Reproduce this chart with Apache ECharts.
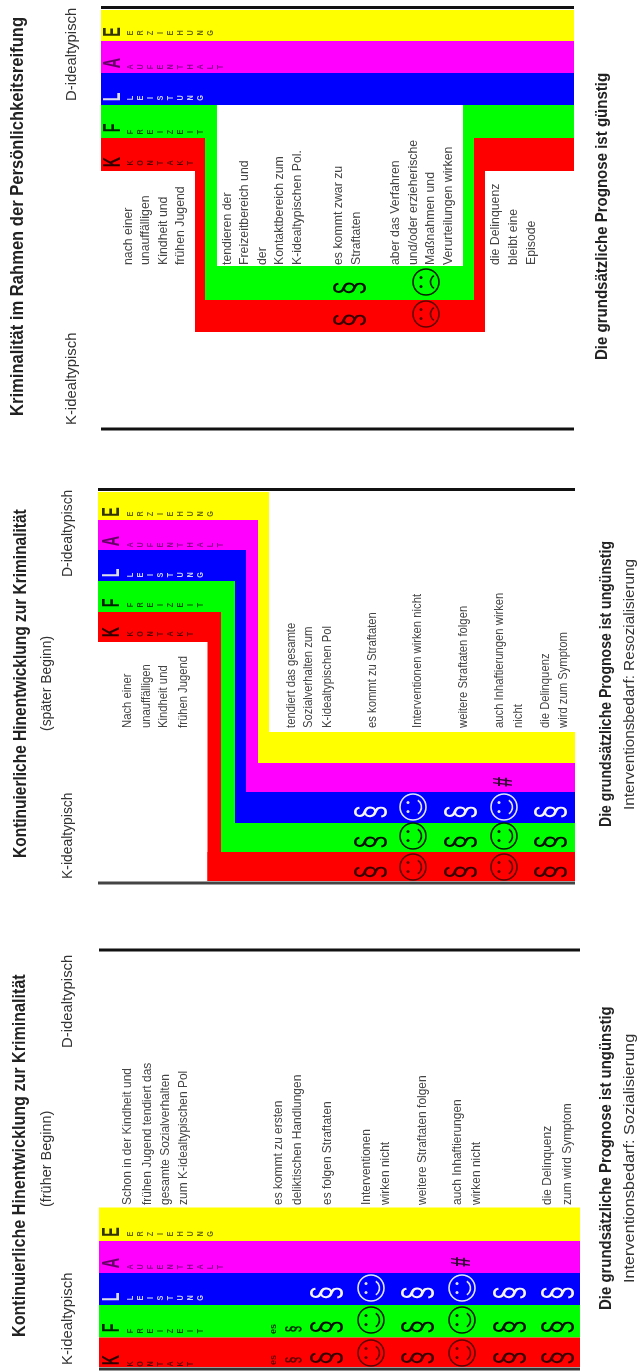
<!DOCTYPE html>
<html><head><meta charset="utf-8">
<style>html,body{margin:0;padding:0;background:#fff}#c{width:643px;height:1372px;filter:blur(0.55px)}</style>
<script src="https://cdn.jsdelivr.net/npm/echarts@6/dist/echarts.min.js"></script>
</head><body><div id="c"></div>
<script>
// Bereiche (K, F, L, A, E)
const bandLetters = ['K','F','L','A','E'];
const bandWords = ['KONTAKT','FREIZEIT','LEISTUNG','AUFENTHALT','ERZIEHUNG'];
const bandColors = ['#ff0000','#00ff00','#0000ff','#ff00ff','#ffff00'];
const bandInk = ['#5a0000','#005500','#c8d0ff','#8a008a','#6a6a00'];
// Band areas: [x0, y0, x1, y1, band]
const reifungBands = [
 [101,10,574,41,4],[101,41,574,73,3],[101,73,574,105,2],
 [101,105,217,138,1],[205,105,217,300,1],[205,266,474,300,1],[463,105,474,300,1],[463,105,574,138,1],
 [101,138,205,171,0],[195,138,205,332,0],[195,300,485,332,0],[474,138,485,332,0],[474,138,574,171,0]
];
const spaetBands = [
 [98,492,269,520,4],[258,492,269,763,4],[258,732,575,763,4],
 [98,520,258,550,3],[246,520,258,792,3],[246,763,575,792,3],
 [98,550,246,581,2],[235,550,246,823,2],[235,792,575,823,2],
 [98,581,235,612,1],[221,581,235,852,1],[221,823,575,852,1],
 [98,612,221,642,0],[207.5,612,221,881,0],[207.5,852,575,881,0]
];
const fruehBands = [
 [99,1207.5,580,1241,4],[99,1241,580,1273,3],[99,1273,580,1305,2],[99,1305,580,1337.5,1],[99,1337.5,580,1367,0]
];
// Rules: [x0, x1, y, colour]
const rules = [
 [101,574,7.5,'#111'],[101,574,429,'#111'],[98,575,489.5,'#111'],[98,575,883,'#444'],[99,580,950,'#111'],[99,580,1369,'#333']
];
// Headings
const headings = ['Kriminalität im Rahmen der Persönlichkeitsreifung','Kontinuierliche Hinentwicklung zur Kriminalität','Kontinuierliche Hinentwicklung zur Kriminalität'];
const subHeadings = ['(später Beginn)','(früher Beginn)'];
const poleK = 'K-idealtypisch', poleD = 'D-idealtypisch';
const prognosis = ['Die grundsätzliche Prognose ist günstig','Die grundsätzliche Prognose ist ungünstig','Die grundsätzliche Prognose ist ungünstig'];
const needs = ['Interventionsbedarf: Resozialisierung','Interventionsbedarf: Sozialisierung'];
// Body text
const reifungText = ['nach einer','unauffälligen','Kindheit und','frühen Jugend','tendieren der','Freizeitbereich und','der','Kontaktbereich zum','K-idealtypischen Pol.','es kommt zwar zu','Straftaten','aber das Verfahren','und/oder erzieherische','Maßnahmen und','Verurteilungen wirken','die Delinquenz','bleibt eine','Episode'];
const reifungTextX = [128,145.5,163,180,227,244,262,279,297,338,356,395,413,430,448,495,513,531];
const spaetText = ['Nach einer','unauffälligen','Kindheit und','frühen Jugend','tendiert das gesamte','Sozialverhalten zum','K-idealtypischen Pol','es kommt zu Straftaten','Interventionen wirken nicht','weitere Straftaten folgen','auch Inhaftierungen wirken','nicht','die Delinquenz','wird zum Symptom'];
const spaetTextX = [127,146,163,183,291,308,327,372,417,463,499,518,545,563];
const fruehText = ['Schon in der Kindheit und','frühen Jugend tendiert das','gesamte Sozialverhalten','zum K-idealtypischen Pol','es kommt zu ersten','deliktischen Handlungen','es folgen Straftaten','Interventionen','wirken nicht','weitere Straftaten folgen','auch Inhaftierungen','wirken nicht','die Delinquenz','zum wird Symptom'];
const fruehTextX = [127,147,165,183,278,297,327,366,385,422,457,476,547,567];
// Marks: [x, y, band]
const paragraphs = [
 [352,288,1],[352,320,0],
 [373,812,2],[373,842,1],[373,872,0],[463,812,2],[463,842,1],[463,872,0],[553,812,2],[553,842,1],[553,872,0],
 [329,1293,2],[329,1327,1],[329,1358,0],[420,1293,2],[420,1327,1],[420,1358,0],[512,1293,2],[512,1327,1],[512,1358,0],[560,1293,2],[560,1327,1],[560,1358,0]
];
const smallParagraphs = [[293,1329,1],[293,1360,0]];
// Faces: [x, y, band, mood]
const faces = [
 [426,282,1,-1],[426,314,0,-1],
 [413,807,2,1],[413,836,1,1],[413,867,0,1],[504,807,2,1],[504,836,1,1],[504,867,0,1],
 [371,1288,2,1],[371,1320,1,1],[371,1353,0,1],[462,1288,2,1],[462,1320,1,1],[462,1353,0,1]
];
const hashes = [[504,782],[462,1262]];

const font = '"Liberation Sans",Arial,sans-serif';
const R = Math.PI/2;
function rotText(p, text, fill, size, weight, scaleX, scaleY, align){
  return {type:'text',x:p[0],y:p[1],rotation:R,scaleX:scaleX||1,scaleY:scaleY||1,
    style:{text,fill,fontSize:size,fontFamily:font,fontWeight:weight||'normal',align:align||'left',verticalAlign:'middle'}};
}
function rectSeries(list){
  return {type:'custom',coordinateSystem:'cartesian2d',silent:true,data:list,
    renderItem(params,api){
      const a=api.coord([api.value(0),api.value(1)]), b=api.coord([api.value(2),api.value(3)]);
      return {type:'rect',shape:{x:a[0],y:a[1],width:b[0]-a[0],height:b[1]-a[1]},style:{fill:bandColors[api.value(4)]}};
    }};
}
function ruleSeries(){
  return {type:'custom',coordinateSystem:'cartesian2d',silent:true,data:rules.map((r,i)=>[r[0],r[1],r[2],i]),
    renderItem(params,api){
      const a=api.coord([api.value(0),api.value(2)]), b=api.coord([api.value(1),api.value(2)]);
      return {type:'rect',shape:{x:a[0],y:a[1]-1.5,width:b[0]-a[0],height:3},style:{fill:rules[api.value(3)][3]}};
    }};
}
// Generic text series: items are [x,y,index] into a table of draw specs
const texts=[];
function T(x,y,text,fill,size,weight,sx,sy,align){texts.push({x,y,text,fill,size,weight,sx,sy,align});}
// headings
T(18,416,headings[0],'#222',15.5,'bold',1.07,1.15);
T(21,858,headings[1],'#222',15.5,'bold',1.0,1.15);
T(20,1337,headings[2],'#222',15.5,'bold',1.04,1.15);
T(47,731,subHeadings[0],'#333',13,'normal',1.07,1.15);
T(47,1207,subHeadings[1],'#333',13,'normal',1.11,1.15);
[[72,425,72,101,1.1],[68,879,68,577,1.03],[68,1365,68,1048,1.1]].forEach(p=>{
  T(p[0],p[1],poleK,'#333',13.5,'normal',p[4],1.15);
  T(p[2],p[3],poleD,'#333',13.5,'normal',p[4],1.15);
});
T(603,360,prognosis[0],'#222',14.5,'bold',1.036,1.1);
T(607,827,prognosis[1],'#222',14.5,'bold',0.97,1.1);
T(607,1310,prognosis[2],'#222',14.5,'bold',1.03,1.1);
T(630,810,needs[0],'#333',14,'normal',1.09,1.05);
T(630,1283,needs[1],'#333',14,'normal',1.16,1.05);
reifungText.forEach((t,i)=>T(reifungTextX[i],265,t,'#444',11.5,'normal',1.07,1.15));
spaetText.forEach((t,i)=>T(spaetTextX[i],728,t,'#444',11.5,'normal',0.98,1.15));
fruehText.forEach((t,i)=>T(fruehTextX[i],1205,t,'#444',11.5,'normal',1.04,1.15));
// band letters and spaced captions
const letterY=[[162,128,97,63,32],[632,603,573,541,512],[1360,1328,1297,1263,1232]];
const captionY=[[163,132,98,67,33],[634,605,575,545,514],[1364,1331,1298,1267,1234]];
const letterInk=['#300','#020','#dde','#606','#330'];
[113,112,112].forEach((lx,p)=>{
  bandLetters.forEach((l,b)=>{
    T(lx,letterY[p][b],l,letterInk[b],23,'bold',0.62,1.08,'center');
    bandWords[b].split('').forEach((ch,k)=>T(131+k*10,captionY[p][b],ch,bandInk[b],8,'bold',0.9,1.1,'center'));
  });
});
paragraphs.forEach(m=>T(m[0],m[1],'§',m[2]===2?'#f4f4ff':(m[2]===0?'#3a0000':'#010'),40,'normal',0.62,1.02,'center'));
smallParagraphs.forEach(m=>{
  const c=m[2]===0?'#600':'#030';
  T(m[0],m[1],'§',c,20,'bold',0.6,1,'center');
  T(m[0]-19,m[1],'es',c,9,'bold',1,1,'center');
});
hashes.forEach(h=>T(h[0],h[1],'#','#303',25,'bold',0.7,1.1,'center'));

const option={
  animation:false,
  grid:{left:0,right:0,top:0,bottom:0},
  xAxis:{type:'value',min:0,max:643,show:false},
  yAxis:{type:'value',min:0,max:1372,inverse:true,show:false},
  series:[
    rectSeries(reifungBands),rectSeries(spaetBands),rectSeries(fruehBands),ruleSeries(),
    {type:'custom',coordinateSystem:'cartesian2d',silent:true,clip:false,
     data:faces,
     renderItem(params,api){
       const c=api.coord([api.value(0),api.value(1)]),band=api.value(2),mood=api.value(3);
       const ink=band===2?'#dfe4ff':(band===0?'#600000':'#002000');
       const st={fill:'none',stroke:ink,lineWidth:1.6};
       return {type:'group',children:[
         {type:'circle',shape:{cx:c[0],cy:c[1],r:13},style:st},
         {type:'circle',shape:{cx:c[0]-5,cy:c[1]-4.5,r:1.5},style:{fill:ink}},
         {type:'circle',shape:{cx:c[0]-5,cy:c[1]+4.5,r:1.5},style:{fill:ink}},
         mood>0
          ?{type:'arc',shape:{cx:c[0]+0.5,cy:c[1],r:8,startAngle:-1,endAngle:1,clockwise:true},style:st}
          :{type:'arc',shape:{cx:c[0]+12,cy:c[1],r:7.5,startAngle:Math.PI-1,endAngle:Math.PI+1,clockwise:true},style:st}
       ]};
     }},
    {type:'custom',coordinateSystem:'cartesian2d',silent:true,clip:false,
     data:texts.map((t,i)=>[t.x,t.y,i]),
     renderItem(params,api){
       const t=texts[api.value(2)],p=api.coord([api.value(0),api.value(1)]);
       return rotText(p,t.text,t.fill,t.size,t.weight,t.sx,t.sy,t.align);
     }}
  ]
};
const chart=echarts.init(document.getElementById('c'),null,{renderer:'canvas',width:643,height:1372});
chart.setOption(option);
</script></body></html>
